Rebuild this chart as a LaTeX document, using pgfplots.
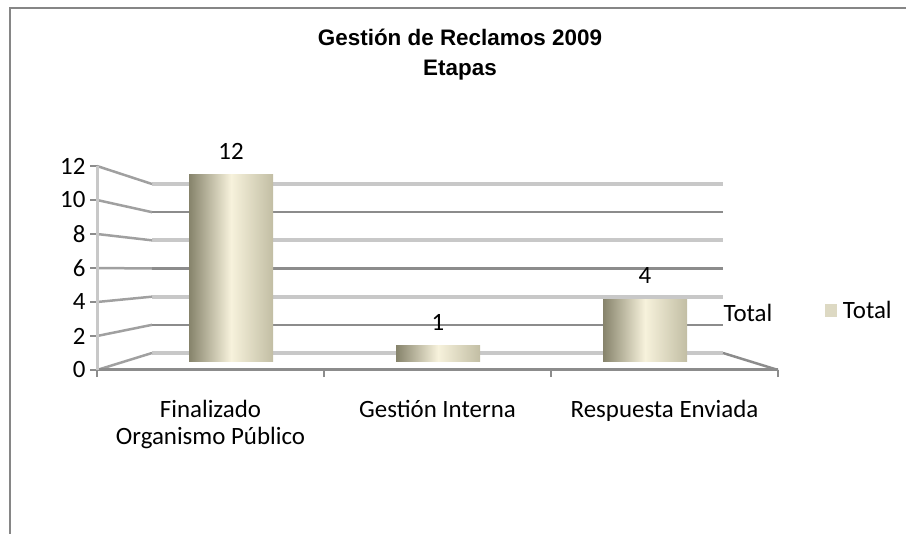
\documentclass[border=0pt]{standalone}
\usepackage{pgfplots}
\pgfplotsset{compat=1.18}
\usepackage{fontspec}
\setmainfont{Carlito}
\newfontfamily\titlefont{Liberation Sans}
\definecolor{gridlight}{HTML}{C8C8C8}
\definecolor{griddark}{HTML}{8C8C8C}
\definecolor{slant}{HTML}{A0A0A0}
\definecolor{barL}{HTML}{86836B}
\definecolor{barM}{HTML}{F7F2DC}
\definecolor{barR}{HTML}{C2BEA4}
\definecolor{legc}{HTML}{DDD9C3}
\definecolor{framec}{HTML}{868686}
\newcommand{\lab}{\fontsize{25}{28}\selectfont}
\pgfplotsset{cyl/.style={ybar, bar shift=0pt, draw=none, left color=barL, right color=barR, middle color=barM}}
\begin{document}
\begin{tikzpicture}
\path[use as bounding box] (0,0) rectangle (906bp,534bp);
\draw[framec, line width=2bp] (10bp,0) -- (10bp,526bp) -- (906bp,526bp);

% back wall with gridlines
\begin{axis}[scale only axis, width=571bp, height=169bp, at={(152bp,181bp)}, anchor=south west,
  xmin=-0.5, xmax=2.5, ymin=0, ymax=12,
  axis line style={draw=none}, xtick=\empty,
  ytick={2,6,10}, minor ytick={0,4,8,12}, yticklabels={},
  major tick length=0pt, minor tick length=0pt,
  ymajorgrids, yminorgrids,
  major grid style={griddark, line width=2.5bp},
  minor grid style={gridlight, line width=4bp}]
\addplot[draw=none] coordinates {(0,0)};
\end{axis}

% slanted connectors (side wall)
\foreach \v in {0,2,...,12}{
  \draw[slant, line width=2.5bp] (97bp,{(164+17*\v)*1bp}) -- (152bp,{(181+14.083*\v)*1bp});
}
\draw[griddark, line width=2.5bp] (723bp,181bp) -- (778bp,164bp);
\draw[griddark, line width=1.5bp] (778bp,164bp) -- (778bp,157bp);

% front axis
\begin{axis}[scale only axis, width=681bp, height=204bp, at={(97bp,164bp)}, anchor=south west,
  xmin=-0.5, xmax=2.5, ymin=0, ymax=12,
  axis x line*=bottom, axis y line*=left,
  x axis line style={griddark, line width=3bp},
  y axis line style={gridlight, line width=3bp},
  tick align=outside, major tick length=7bp,
  tick style={griddark, line width=1.5bp},
  ytick={0,2,...,12},
  yticklabel style={font=\lab, xshift=-1bp},
  /pgf/number format/assume math mode=true,
  xtick={-0.5,0.5,1.5,2.5}, xticklabels={},
  extra x ticks={0,1,2},
  extra x tick labels={\strut Finalizado\\Organismo Público, \strut Gestión Interna, \strut Respuesta Enviada},
  extra x tick style={major tick length=0pt, xticklabel style={align=center, anchor=north, font=\lab, yshift=-24bp}}]
\addplot[draw=none] coordinates {(0,0)};
\end{axis}

% bars at mid depth
\begin{axis}[scale only axis, width=621bp, height=186.5bp, at={(127.5bp,172.5bp)}, anchor=south west,
  xmin=-0.5, xmax=2.5, ymin=0, ymax=12,
  axis line style={draw=none}, xtick=\empty, ytick=\empty,
  ybar, bar width=84bp,
  /pgf/number format/assume math mode=true,
  nodes near coords,
  every node near coord/.append style={font=\lab, yshift=12bp},
  legend style={draw=none, fill=none, at={(1.118,0.271)}, anchor=west, font=\lab,
    legend cell align=left}]
\addlegendimage{draw=none, legend image code/.code={\fill[legc, draw=none] (0bp,-6.5bp) rectangle (12bp,6.5bp); \path[draw=none, fill=none] (0bp,0bp) rectangle (16bp,0.1bp);}}
\addlegendentry{Total}
\addplot[cyl, forget plot] coordinates {(0,12)};
\addplot[cyl, forget plot] coordinates {(1,1)};
\addplot[cyl, forget plot] coordinates {(2,4)};
\end{axis}

\node[font=\lab] at (748bp,221bp) {Total};
\node[font=\titlefont\bfseries\fontsize{22.5}{30}\selectfont, align=center] at (460bp,479bp)
  {Gestión de Reclamos 2009\\Etapas};
\end{tikzpicture}
\end{document}
